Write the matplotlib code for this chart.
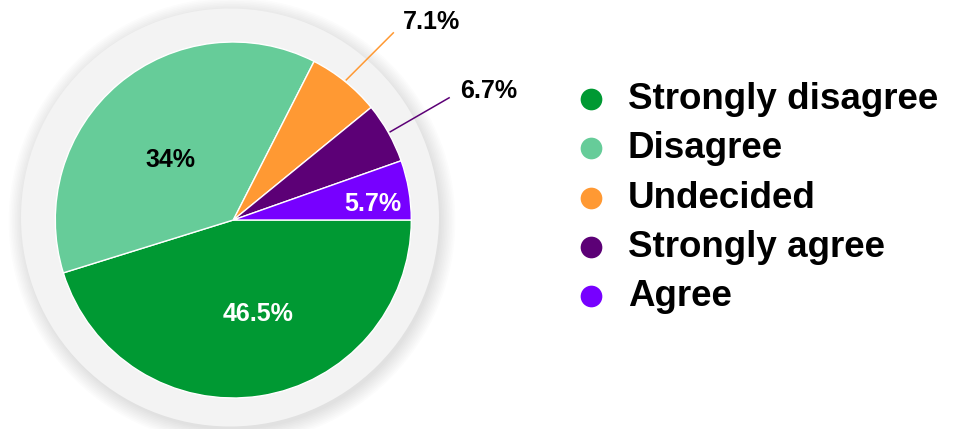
"""
Survey responses shown as a pie with a grey backing disc and a dot legend.
"""

import matplotlib.pyplot as plt
import numpy as np
from matplotlib.patches import Circle

# Data
# ----------------------------------------------------------------------------

categories = ['Strongly disagree', 'Disagree', 'Undecided', 'Strongly agree', 'Agree']
shares = [45.2, 37.3, 6.6, 5.5, 5.4]  # wedge sizes as drawn
pct_labels = ['46.5%', '34%', '7.1%', '6.7%', '5.7%']
colors = ['#009933', '#66cc99', '#ff9933', '#5c0076', '#7700ff']

# Plot
# ----------------------------------------------------------------------------

plt.rcParams['font.family'] = ['Liberation Sans', 'DejaVu Sans']

fig = plt.figure(figsize=(9.57, 4.29), dpi=100)
ax = fig.add_axes([0, 0, 1, 1])

cx, cy, R = 233.3, 220, 178
fs_lab, fs_leg = 18, 26.5
# shift from the digit middle to the baseline (axes run in pixels)
lab_drop = 0.36 * fs_lab * 100 / 72

# soft shadow + grey disc behind the pie
for k in range(10):
    ax.add_patch(Circle((232, 221), 209 + k * 1.6, color='#000000', alpha=0.012, lw=0, zorder=0))
ax.add_patch(Circle((230, 217.5), 209, color='#f3f3f3', lw=0, zorder=1))

# y axis is inverted below, so counterclock=True runs clockwise on screen
wedges, _ = ax.pie(shares, colors=colors, center=(cx, cy), radius=R, startangle=0,
                   counterclock=True, wedgeprops=dict(edgecolor='white', linewidth=1))
for w in wedges:
    w.set_zorder(2)

# pie() resets the limits, so set pixel-like limits afterwards
ax.set_xlim(0, 957)
ax.set_ylim(429, 0)
ax.set_aspect('equal')
ax.axis('off')

# labels inside the wedges: (radius fraction, angle nudge in degrees, colour)
inside = {0: (0.534, -6.5, 'white'), 1: (0.494, -5.0, 'black'), 4: (0.789, 2.3, 'white')}
for i, (frac, nudge, tc) in inside.items():
    w = wedges[i]
    th = np.radians((w.theta1 + w.theta2) / 2 + nudge)
    ax.text(cx + frac * R * np.cos(th), cy + frac * R * np.sin(th) + lab_drop, pct_labels[i],
            ha='center', va='baseline', color=tc, fontsize=fs_lab, fontweight='bold', zorder=5)

# labels outside with leader lines: (line length, screen angle, text dx, text dy)
outside = {2: (66.5, 45, 10, -12.5), 3: (68, 30, 11, -9)}
for i, (length, ang, dx, dy) in outside.items():
    w = wedges[i]
    th = np.radians((w.theta1 + w.theta2) / 2)
    x0, y0 = cx + (R + 2) * np.cos(th), cy + (R + 2) * np.sin(th)
    x1 = x0 + length * np.cos(np.radians(ang))
    y1 = y0 - length * np.sin(np.radians(ang))
    ax.plot([x0, x1], [y0, y1], color=colors[i], lw=1.1, zorder=4)
    ax.text(x1 + dx, y1 + dy + lab_drop, pct_labels[i], ha='left', va='baseline',
            color='black', fontsize=fs_lab, fontweight='bold', zorder=5)

# legend
for j, (name, c) in enumerate(zip(categories, colors)):
    y = 99 + j * 49.3
    ax.scatter(591, y, s=244, color=c, lw=0, zorder=5)
    ax.text(628, y + 10, name, ha='left', va='baseline', fontsize=fs_leg, fontweight='bold',
            color='black', zorder=5)

fig.savefig('out.png', dpi=100)
